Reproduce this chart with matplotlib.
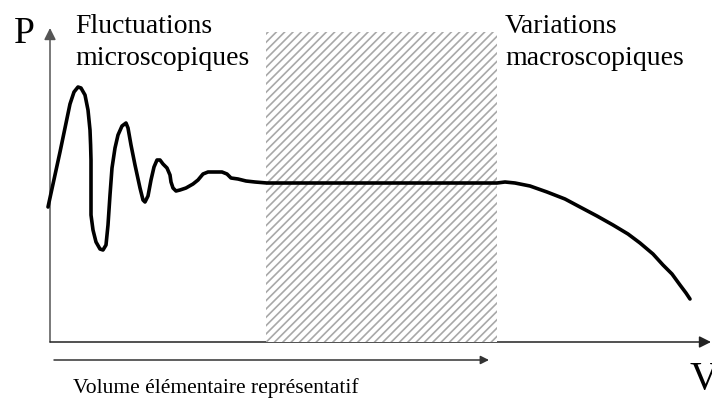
"""Schematic of the representative elementary volume (REV) curve P(V)."""

import matplotlib
matplotlib.use('Agg')  # no display
import matplotlib.pyplot as plt
from matplotlib.patches import Rectangle

# Curve (V along the axis, P upward, origin at the axes corner)
curve_v = [-2, 10, 20, 24, 28, 31, 35, 38, 40, 40.6, 41, 41, 41, 43, 46, 50,
           53, 56, 58, 60, 62, 65, 68, 72, 76, 78, 81, 85, 90, 93, 95,
           98, 101, 104, 107, 110, 113, 117, 120, 121, 123, 126, 130, 136, 143, 148,
           153, 158, 165, 172, 177, 181, 188, 196, 205, 217, 350, 447, 455, 465, 480,
           497, 515, 530, 547, 563, 578, 590, 603, 613, 622, 630, 636, 640]
curve_p = [135, 190, 238, 250, 255, 254, 247, 232, 212, 197, 182, 152, 127, 112, 100, 93,
           92, 97, 117, 147, 174, 194, 207, 216, 219, 214, 197, 177, 154, 142, 140,
           146, 162, 175, 182, 182, 178, 174, 167, 160, 154, 151, 152, 154, 158, 162,
           168, 170, 170, 170, 168, 164, 163, 161, 160, 159, 159, 159, 160, 159, 156,
           150, 143, 135, 126, 117, 108, 99, 88, 77, 68, 57, 49, 43]

# REV zone (hatched band)
rev_range = (216, 447)
rev_top = 310

label_left = ['Fluctuations', 'microscopiques']
label_right = ['Variations', 'macroscopiques']
label_rev = 'Volume élémentaire représentatif'

plt.rcParams['font.family'] = ['Liberation Serif', 'DejaVu Serif']
plt.rcParams['hatch.linewidth'] = 1.2

fig = plt.figure(figsize=(7.12, 4), dpi=100)
ax = fig.add_axes([0, 0, 1, 1])
ax.set_xlim(-50, 662)
ax.set_ylim(-58, 342)
ax.axis('off')

# axes with arrow heads
ax.annotate('', xy=(0, 314), xytext=(0, 0),
            arrowprops=dict(arrowstyle='-|>,head_length=0.5,head_width=0.25',
                            color='#555555', lw=1.1, mutation_scale=14,
                            shrinkA=0, shrinkB=0))
ax.annotate('', xy=(661, 0), xytext=(0, 0),
            arrowprops=dict(arrowstyle='-|>,head_length=0.5,head_width=0.25',
                            color='#222222', lw=1.1, mutation_scale=14,
                            shrinkA=0, shrinkB=0))

# hatched REV band, drawn over the V axis
band = Rectangle((rev_range[0], 0), rev_range[1] - rev_range[0], rev_top,
                 facecolor='white', edgecolor='#a8a8a8', hatch='////',
                 linewidth=0, zorder=3)
ax.add_patch(band)

ax.plot(curve_v, curve_p, color='black', lw=2.6, solid_joinstyle='round',
        solid_capstyle='round', zorder=4)

# REV arrow under the axis
ax.annotate('', xy=(439, -18), xytext=(4, -18),
            arrowprops=dict(arrowstyle='-|>,head_length=0.5,head_width=0.25',
                            color='#333333', lw=1.1, mutation_scale=10,
                            shrinkA=0, shrinkB=0))

ax.text(-36, 299, 'P', fontsize=27, ha='left', va='baseline')
ax.text(640, -47, 'V', fontsize=29, ha='left', va='baseline')
ax.text(25, 309, label_left[0], fontsize=20, ha='left', va='baseline')
ax.text(25, 277, label_left[1], fontsize=20, ha='left', va='baseline')
ax.text(455, 309, label_right[0], fontsize=20, ha='left', va='baseline')
ax.text(455, 277, label_right[1], fontsize=20, ha='left', va='baseline')
ax.text(23, -51, label_rev, fontsize=15.5, ha='left', va='baseline')

fig.savefig('out.png', dpi=100, facecolor='white')
plt.close(fig)
